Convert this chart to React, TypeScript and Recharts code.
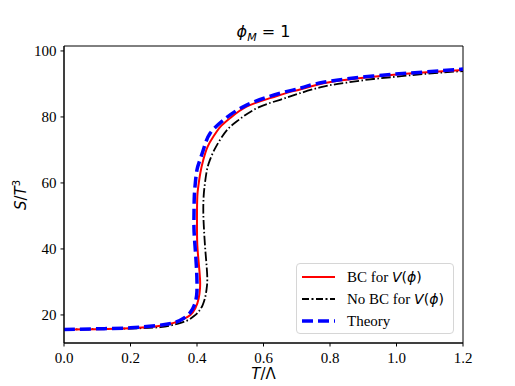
import React from 'react';
import { LineChart, Line, XAxis, YAxis, ReferenceArea } from 'recharts';

const X_TICKS = [0, 0.2, 0.4, 0.6, 0.8, 1.0, 1.2];
const Y_TICKS = [20, 40, 60, 80, 100];
const X_DOMAIN = [0, 1.2];
const Y_DOMAIN = [11.5, 101.5];

// BC for V(phi) — red solid
const BC_T = [0, 0.1, 0.2, 0.28, 0.33, 0.36, 0.38, 0.395, 0.405, 0.409, 0.409, 0.405, 0.401, 0.4, 0.4, 0.401, 0.404, 0.41, 0.419, 0.432, 0.449, 0.47, 0.499, 0.549, 0.62, 0.68, 0.71, 0.78, 0.85, 0.93, 1.0, 1.08, 1.2];
const BC_S = [15.6, 15.7, 16.0, 16.6, 17.6, 18.8, 20.0, 22, 25, 28, 31, 36, 41, 46, 51, 56, 59, 63, 67, 71, 74, 77, 79.6, 83.1, 85.7, 87.6, 88.3, 90.2, 91.3, 92.2, 92.9, 93.5, 94.2];

// No BC for V(phi) — black dash-dot
const NOBC_T = [0, 0.1, 0.2, 0.29, 0.34, 0.37, 0.39, 0.405, 0.417, 0.425, 0.429, 0.431, 0.428, 0.424, 0.421, 0.419, 0.42, 0.424, 0.43, 0.439, 0.452, 0.469, 0.49, 0.519, 0.579, 0.65, 0.71, 0.78, 0.85, 0.93, 1.0, 1.08, 1.2];
const NOBC_S = [15.6, 15.7, 15.9, 16.3, 17.3, 18.3, 19.6, 21, 23, 25.5, 28, 31, 36, 41, 46, 51, 56, 60, 64, 67, 70, 73, 76, 78.6, 82.6, 85.2, 87.2, 89.2, 90.4, 91.5, 92.2, 93.0, 93.9];

// Theory — blue dashed
const TH_T = [0, 0.1, 0.2, 0.28, 0.33, 0.36, 0.38, 0.392, 0.399, 0.4, 0.398, 0.394, 0.391, 0.391, 0.392, 0.395, 0.4, 0.409, 0.422, 0.439, 0.479, 0.549, 0.65, 0.71, 0.78, 0.93, 1.08, 1.2];
const TH_S = [15.6, 15.8, 16.1, 16.8, 17.6, 19, 20.8, 23, 26, 30, 35, 41, 46, 51, 56, 60, 64, 67, 71, 75, 79, 83.6, 87.2, 88.7, 90.5, 92.4, 93.6, 94.5];

const zip = (t, s) => t.map((v, i) => ({ t: v, s: s[i] }));
const BC = zip(BC_T, BC_S);
const NOBC = zip(NOBC_T, NOBC_S);
const THEORY = zip(TH_T, TH_S);

const SERIF = "'Liberation Serif', 'Times New Roman', serif";
const SANS = "'DejaVu Sans', sans-serif";

function XTick({ x, y, payload }) {
  return (
    <text x={x} y={y + 14} textAnchor="middle" style={{ fontFamily: SERIF, fontSize: 15, fill: '#000' }}>
      {Number(payload.value).toFixed(1)}
    </text>
  );
}

function YTick({ x, y, payload }) {
  return (
    <text x={x - 2} y={y + 5} textAnchor="end" style={{ fontFamily: SERIF, fontSize: 15, fill: '#000' }}>
      {payload.value}
    </text>
  );
}

function LegendBox() {
  const rows = [
    { color: '#ff0000', dash: undefined, w: 2, label: 'BC for ', math: true },
    { color: '#000', dash: '7 2.5 2 2.5', w: 1.8, label: 'No BC for ', math: true },
    { color: '#0000ff', dash: '11 5', w: 3.5, label: 'Theory', math: false },
  ];
  return (
    <div
      style={{
        position: 'absolute',
        left: 296,
        top: 263,
        width: 158,
        height: 71,
        border: '1px solid #d6d6d6',
        borderRadius: 4,
        background: 'rgba(255,255,255,0.8)',
        boxSizing: 'border-box',
        padding: '2px 0 0 5px',
      }}
    >
      {rows.map((r) => (
        <div key={r.label} style={{ display: 'flex', alignItems: 'center', height: 22 }}>
          <svg width={33} height={8} style={{ marginRight: 12, flex: 'none' }}>
            <line x1={0} y1={4} x2={33} y2={4} stroke={r.color} strokeWidth={r.w} strokeDasharray={r.dash} />
          </svg>
          <span style={{ fontFamily: SERIF, fontSize: 15, color: '#000', whiteSpace: 'nowrap' }}>
            {r.label}
            {r.math ? (
              <span style={{ fontFamily: SANS, fontSize: 14 }}>
                <i>V</i>(<i>ϕ</i>)
              </span>
            ) : null}
          </span>
        </div>
      ))}
    </div>
  );
}

export default function App() {
  return (
    <div style={{ position: 'relative', width: 515, height: 386, background: '#fff' }}>
      <style>{'body{margin:0}'}</style>
      <LineChart width={515} height={386} margin={{ top: 46, right: 52, left: 14, bottom: 13 }}>
        <XAxis
          dataKey="t"
          type="number"
          domain={X_DOMAIN}
          ticks={X_TICKS}
          allowDuplicatedCategory={false}
          height={30}
          tickSize={3.5}
          tickLine={{ stroke: '#000' }}
          axisLine={{ stroke: '#000' }}
          tick={<XTick />}
        />
        <YAxis
          dataKey="s"
          type="number"
          domain={Y_DOMAIN}
          ticks={Y_TICKS}
          width={50}
          tickSize={3.5}
          tickLine={{ stroke: '#000' }}
          axisLine={{ stroke: '#000' }}
          tick={<YTick />}
        />
        <Line data={NOBC} dataKey="s" name="No BC" type="natural" stroke="#000" strokeWidth={1.8} strokeDasharray="9.6 2.4 1.5 2.4" dot={false} isAnimationActive={false} />
        <Line data={BC} dataKey="s" name="BC" type="natural" stroke="#ff0000" strokeWidth={2} dot={false} isAnimationActive={false} />
        <Line data={THEORY} dataKey="s" name="Theory" type="natural" stroke="#0000ff" strokeWidth={3.5} strokeDasharray="11 5" dot={false} isAnimationActive={false} />
        <ReferenceArea x1={X_DOMAIN[0]} x2={X_DOMAIN[1]} y1={Y_DOMAIN[0]} y2={Y_DOMAIN[1]} fill="none" stroke="#000" strokeWidth={1} ifOverflow="visible" />
      </LineChart>
      <LegendBox />
      <div style={{ position: 'absolute', left: 0, width: 527, top: 22, textAlign: 'center', fontFamily: SANS, fontSize: 16, color: '#000' }}>
        <i>ϕ</i>
        <sub style={{ fontSize: 11 }}><i>M</i></sub> = 1
      </div>
      <div style={{ position: 'absolute', left: 0, width: 527, top: 365, textAlign: 'center', fontFamily: SANS, fontSize: 15, color: '#000' }}>
        <i>T</i>/Λ
      </div>
      <div
        style={{
          position: 'absolute',
          left: 20,
          top: 195,
          transform: 'translate(-50%, -50%) rotate(-90deg)',
          fontFamily: SANS,
          fontSize: 15,
          color: '#000',
          whiteSpace: 'nowrap',
        }}
      >
        <i>S</i>/<i>T</i>
        <sup style={{ fontSize: 10 }}>3</sup>
      </div>
    </div>
  );
}
